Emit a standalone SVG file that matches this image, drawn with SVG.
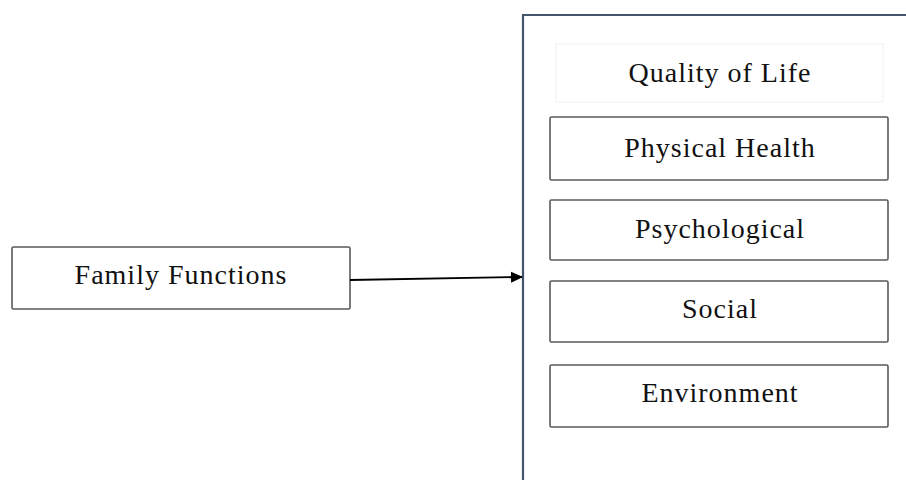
<svg xmlns="http://www.w3.org/2000/svg" width="906" height="480" viewBox="0 0 906 480">
<style>
.box{fill:#fff;stroke:#595959;stroke-width:1.6}
.lbl{font-family:"Liberation Serif","Times New Roman",serif;font-size:28px;letter-spacing:1px;fill:#111;text-anchor:middle}
</style>
<defs>
<marker id="arr" markerWidth="12" markerHeight="12" refX="11" refY="6" orient="auto" markerUnits="userSpaceOnUse">
<path d="M0,0.5 L12,6 L0,11.5 Z" fill="#000"/>
</marker>
</defs>
<rect width="906" height="480" fill="#fff"/>
<g id="container">
<path d="M523,480 V15 H910" fill="none" stroke="#44546a" stroke-width="2.2"/>
</g>
<g id="quality-of-life">
<rect x="556" y="44" width="327" height="58" fill="#fff" stroke="#f0f0f0" stroke-width="1"/>
<text class="lbl" x="720" y="82">Quality of Life</text>
</g>
<g id="physical-health">
<rect class="box" x="550" y="117" width="338" height="63" rx="1.5"/>
<text class="lbl" x="720" y="157">Physical Health</text>
</g>
<g id="psychological">
<rect class="box" x="550" y="200" width="338" height="60" rx="1.5"/>
<text class="lbl" x="720" y="238">Psychological</text>
</g>
<g id="social">
<rect class="box" x="550" y="281" width="338" height="61" rx="1.5"/>
<text class="lbl" x="720" y="318">Social</text>
</g>
<g id="environment">
<rect class="box" x="550" y="365" width="338" height="62" rx="1.5"/>
<text class="lbl" x="720" y="402">Environment</text>
</g>
<g id="family-functions">
<rect class="box" x="12" y="247" width="338" height="62" rx="1.5"/>
<text class="lbl" x="181" y="284">Family Functions</text>
</g>
<g id="connectors">
<line x1="350" y1="280" x2="522" y2="277" stroke="#000" stroke-width="1.8" marker-end="url(#arr)"/>
</g>
</svg>
